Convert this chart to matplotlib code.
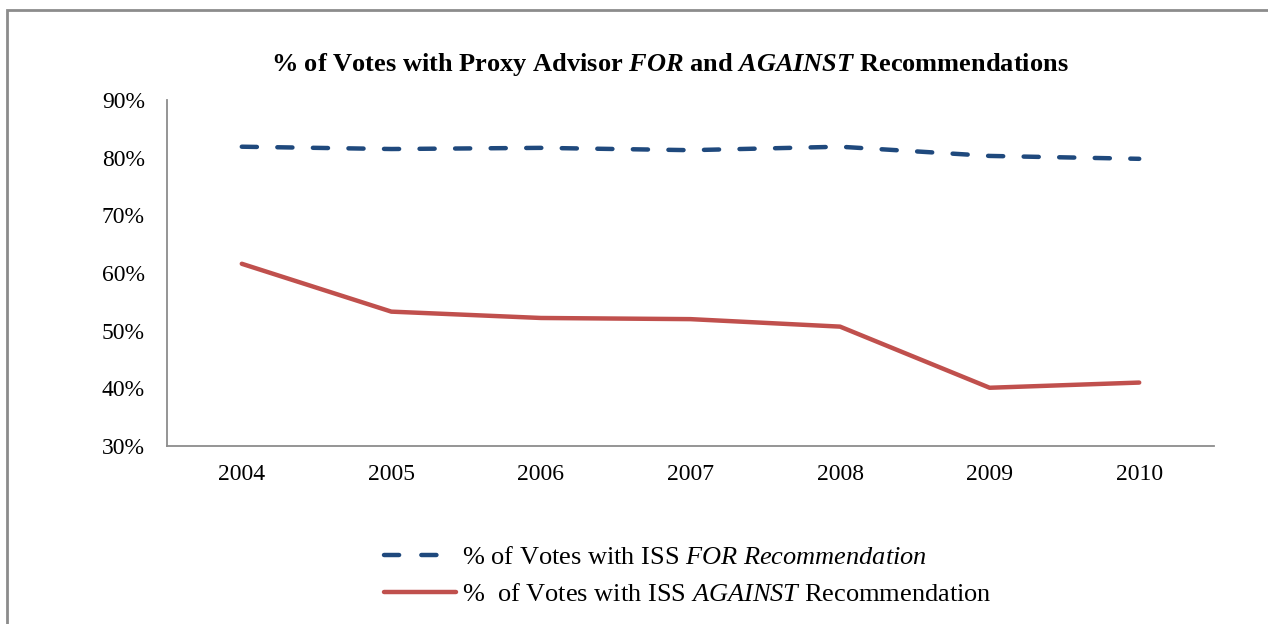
import matplotlib
matplotlib.use("Agg")
import matplotlib.pyplot as plt
from matplotlib.patches import Rectangle

years = ["2004", "2005", "2006", "2007", "2008", "2009", "2010"]
votes_for = [81.9, 81.5, 81.7, 81.3, 81.9, 80.3, 79.8]
votes_against = [61.6, 53.3, 52.2, 52.0, 50.7, 40.1, 41.0]
y_ticks = [30, 40, 50, 60, 70, 80, 90]

plt.rcParams["font.family"] = ["Liberation Serif", "DejaVu Serif"]
plt.rcParams["mathtext.fontset"] = "custom"
plt.rcParams["mathtext.rm"] = "Liberation Serif"
plt.rcParams["mathtext.it"] = "Liberation Serif:italic"
plt.rcParams["mathtext.bf"] = "Liberation Serif:bold"
plt.rcParams["mathtext.bfit"] = "Liberation Serif:italic:bold"

fig = plt.figure(figsize=(12.68, 6.24), dpi=100)
W, H = 1268, 624

# grey frame around the chart area
fig.patches.append(Rectangle((7 / W, -0.1), 1.2, (H - 10) / H + 0.1,
                             transform=fig.transFigure, fill=False,
                             edgecolor="#8c8c8c", linewidth=2))

ax = fig.add_axes([167 / W, 1 - 446 / H, (1214 - 167) / W, (446 - 100) / H])

x = range(len(years))
ax.plot(x, votes_for, color="#1F497D", linewidth=3.2, dashes=(3.4, 4.6),
        dash_capstyle="round", solid_capstyle="round",
        label=r"% of Votes with ISS $\mathit{FOR\ Recommendation}$")
ax.plot(x, votes_against, color="#C0504D", linewidth=3.2,
        solid_capstyle="round",
        label=r"%  of Votes with ISS $\mathit{AGAINST}$ Recommendation")

ax.set_xlim(-0.5, len(years) - 0.5)
ax.set_ylim(30, 90)
ax.set_xticks(list(x))
ax.set_xticklabels(years)
ax.set_yticks(y_ticks)
ax.set_yticklabels([f"{t}%" for t in y_ticks])
ax.tick_params(axis="both", length=0, labelsize=17)
ax.tick_params(axis="x", pad=13)
ax.tick_params(axis="y", pad=16)
for side in ["top", "right"]:
    ax.spines[side].set_visible(False)
for side in ["left", "bottom"]:
    ax.spines[side].set_color("#8c8c8c")
    ax.spines[side].set_linewidth(1.3)

fig.text(670 / W, 1 - 65 / H,
         r"% of Votes with Proxy Advisor $\mathbfit{FOR}$ and $\mathbfit{AGAINST}$ Recommendations",
         ha="center", va="center", fontsize=19, fontweight="bold")

leg = fig.legend(loc="center left", bbox_to_anchor=(360 / W, 1 - 576 / H),
                 frameon=False, fontsize=19, handlelength=2.75,
                 handletextpad=0.2, labelspacing=0.5)
# two whole dashes in the legend sample
leg.legend_handles[0].set_dashes((3.4, 5.0))

fig.savefig("out.png", dpi=100)
